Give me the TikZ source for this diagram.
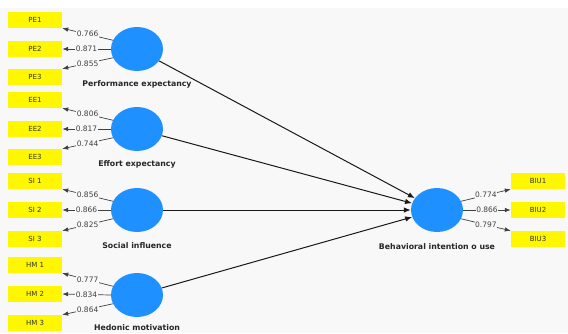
\documentclass[tikz,border=0pt]{standalone}
\usepackage{fontspec}
\setmainfont{DejaVu Sans}
\usepackage{xcolor}
\usetikzlibrary{arrows.meta,shapes.geometric}
\definecolor{PlsYellow}{HTML}{FFF700}
\definecolor{PlsBlue}{HTML}{1E90FF}
\definecolor{PlsBack}{HTML}{F8F8F8}
\newcommand{\LoadFont}{\fontsize{7.5}{9}\selectfont}
\newcommand{\BoxFont}{\fontsize{7}{8}\selectfont}
\newcommand{\NameFont}{\fontsize{7.8}{9}\selectfont\bfseries}

\begin{document}
\begin{tikzpicture}[x=1pt,y=-1pt,
    indic/.style={fill=PlsYellow,minimum width=54pt,minimum height=16pt,inner sep=0pt,font=\BoxFont,text=black!80},
    latent/.style={ellipse,fill=PlsBlue,minimum width=52pt,minimum height=44pt,inner sep=0pt},
    lvname/.style={font=\NameFont,text=black!85},
    load/.style={draw=black!75,line width=0.7pt,-{Latex[length=6pt,width=4.5pt]}},
    structural/.style={draw=black!90,line width=1pt,-{Latex[length=7pt,width=5.5pt]}},
    coef/.style={fill=PlsBack,inner sep=0.6pt,font=\LoadFont,text=black!75}]
        \fill[white] (0,0) rectangle (568,333);
        \fill[PlsBack] (0,8) rectangle (568,333);
        \useasboundingbox (0,0) rectangle (568,333);
        % indicators
        \node[indic] (pe1) at (35,20) {PE1};
        \node[indic] (pe2) at (35,49) {PE2};
        \node[indic] (pe3) at (35,77) {PE3};
        \node[indic] (ee1) at (35,100) {EE1};
        \node[indic] (ee2) at (35,129) {EE2};
        \node[indic] (ee3) at (35,157) {EE3};
        \node[indic] (si1) at (35,181) {SI 1};
        \node[indic] (si2) at (35,210) {SI 2};
        \node[indic] (si3) at (35,239) {SI 3};
        \node[indic] (hm1) at (35,265) {HM 1};
        \node[indic] (hm2) at (35,294) {HM 2};
        \node[indic] (hm3) at (35,323) {HM 3};
        \node[indic] (biu1) at (538,181) {BIU1};
        \node[indic] (biu2) at (538,210) {BIU2};
        \node[indic] (biu3) at (538,239) {BIU3};
        % constructs
        \node[latent] (pe) at (137,49) {};
        \node[latent] (ee) at (137,129) {};
        \node[latent] (si) at (137,210) {};
        \node[latent] (hm) at (137,295) {};
        \node[latent] (biu) at (437,210) {};
        \node[lvname] (pename) at (137,84) {Performance expectancy};
        \node[lvname] (eename) at (137,164) {Effort expectancy};
        \node[lvname] (siname) at (137,246) {Social influence};
        \node[lvname] (hmname) at (137,327.5) {Hedonic motivation};
        \node[lvname] (biuname) at (437,247) {Behavioral intention o use};
        % outer loadings
        \draw[load] (pe.160) -- node[coef] {0.766} (pe1.south east);
        \draw[load] (pe.180) -- node[coef] {0.871} (pe2.east);
        \draw[load] (pe.200) -- node[coef] {0.855} (pe3.north east);
        \draw[load] (ee.160) -- node[coef] {0.806} (ee1.south east);
        \draw[load] (ee.180) -- node[coef] {0.817} (ee2.east);
        \draw[load] (ee.200) -- node[coef] {0.744} (ee3.north east);
        \draw[load] (si.160) -- node[coef] {0.856} (si1.south east);
        \draw[load] (si.180) -- node[coef] {0.866} (si2.east);
        \draw[load] (si.200) -- node[coef] {0.825} (si3.north east);
        \draw[load] (hm.160) -- node[coef] {0.777} (hm1.south east);
        \draw[load] (hm.180) -- node[coef] {0.834} (hm2.east);
        \draw[load] (hm.200) -- node[coef] {0.864} (hm3.north east);
        \draw[load] (biu.20) -- node[coef] {0.774} (biu1.south west);
        \draw[load] (biu.0) -- node[coef] {0.866} (biu2.west);
        \draw[load] (biu.-20) -- node[coef] {0.797} (biu3.north west);
        % inner model
        \draw[structural] (pe) -- (biu);
        \draw[structural] (ee) -- (biu);
        \draw[structural] (si) -- (biu);
        \draw[structural] (hm) -- (biu);
      \end{tikzpicture}
\end{document}
